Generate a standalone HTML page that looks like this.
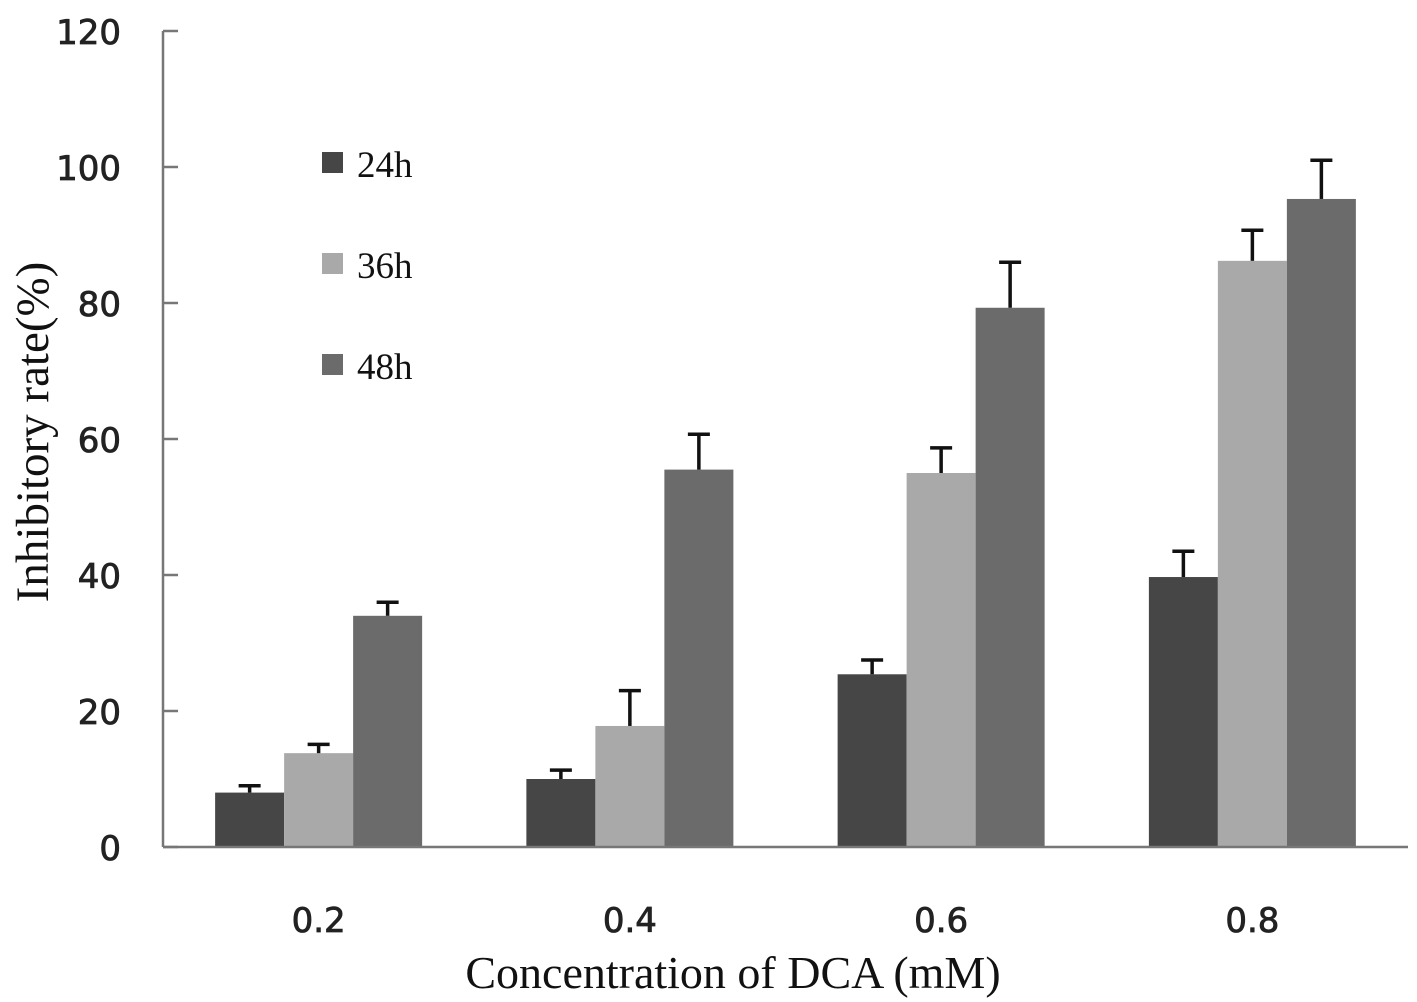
<!DOCTYPE html>
<html><head><meta charset="utf-8"><style>
html,body{margin:0;padding:0;background:#fff;}
svg{display:block;}
</style></head><body>
<svg id="chart" width="1417" height="1002" xmlns="http://www.w3.org/2000/svg"></svg>
<script>
const categories = ["0.2","0.4","0.6","0.8"];
const seriesNames = ["24h","36h","48h"];
const values24 = [8, 10, 25.4, 39.7];
const values36 = [13.8, 17.8, 55, 86.2];
const values48 = [34, 55.5, 79.3, 95.3];
const err24 = [1, 1.3, 2.1, 3.8];
const err36 = [1.3, 5.2, 3.7, 4.5];
const err48 = [2, 5.2, 6.7, 5.7];
const yTicks = [0,20,40,60,80,100,120];

const NS="http://www.w3.org/2000/svg";
const svg=document.getElementById('chart');
function mk(tag,attrs,parent){const e=document.createElementNS(NS,tag);for(const k in attrs)e.setAttribute(k,attrs[k]);(parent||svg).appendChild(e);return e;}
const x0=163,x1=1408,y0=847,yTop=31;
const yScale=v=>y0-(v/120)*(y0-yTop);
const groupW=(x1-x0)/categories.length;
const barW=69;
const xBar=(ci,si)=>x0+groupW*ci+groupW/2-barW*1.5+si*barW;
const series=[values24,values36,values48];
const errs=[err24,err36,err48];
const colors=["#464646","#a9a9a9","#6b6b6b"];

yTicks.forEach(t=>{
  const y=yScale(t);
  const tk=mk('line',{x1:x0,x2:x0+15,y1:y,y2:y,stroke:'#777','stroke-width':2.5});
  
  
  const lb=mk('text',{x:121,y:y+13,'text-anchor':'end','font-family':'DejaVu Sans, Liberation Sans, sans-serif','font-size':34,stroke:'#222','stroke-width':0.8,fill:'#222'});
  lb.textContent=t;
  
  
});

series.forEach((vals,si)=>{
  vals.forEach((v,ci)=>{
    const x=xBar(ci,si);
    const r=mk('rect',{x:x,y:yScale(v),width:barW,height:y0-yScale(v),fill:colors[si]});
    
    
    const cx=x+barW/2, top=yScale(v+errs[si][ci]);
    const g=mk('g',{stroke:'#111','stroke-width':3.5});
    
    
    mk('line',{x1:cx,x2:cx,y1:yScale(v),y2:top},g);
    mk('line',{x1:cx-11,x2:cx+11,y1:top,y2:top},g);
  });
});

const ya=mk('line',{x1:x0,x2:x0,y1:yTop,y2:y0,stroke:'#777','stroke-width':2.5});


const xa=mk('line',{x1:x0,x2:x1,y1:y0,y2:y0,stroke:'#777','stroke-width':2.5});



categories.forEach((c,ci)=>{
  const lb=mk('text',{x:x0+groupW*ci+groupW/2,y:932,'text-anchor':'middle','font-family':'DejaVu Sans, Liberation Sans, sans-serif','font-size':34,stroke:'#222','stroke-width':0.8,fill:'#222'});
  lb.textContent=c;
  
  
});

seriesNames.forEach((n,si)=>{
  const y=152+si*101;
  const sq=mk('rect',{x:322,y:y,width:21,height:21,fill:colors[si]});
  
  
  const t=mk('text',{x:357,y:y+25,'font-family':'Liberation Serif, serif','font-size':37,fill:'#111'});
  t.textContent=n;
  
  
});

const xt=mk('text',{x:733,y:988,'text-anchor':'middle','font-family':'Liberation Serif, serif','font-size':46,fill:'#111'});
xt.textContent='Concentration of DCA (mM)';


const yt=mk('text',{x:0,y:0,'text-anchor':'middle','font-family':'Liberation Serif, serif','font-size':47,fill:'#111',transform:'translate(48,432) rotate(-90)'});
yt.textContent='Inhibitory rate(%)';


</script>
</body></html>
